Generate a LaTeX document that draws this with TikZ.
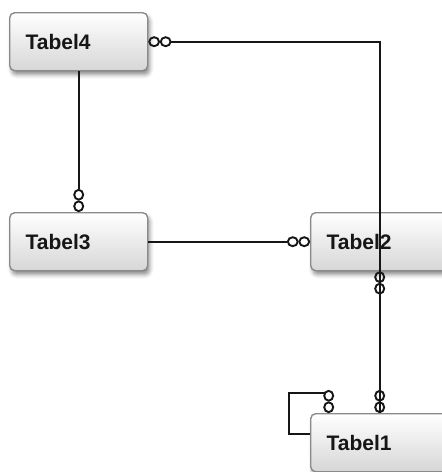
\documentclass[tikz,border=0pt]{standalone}
\usepackage{fontspec}
\setmainfont{Liberation Sans}
\usetikzlibrary{shadows.blur,calc}
\definecolor{edgegrey}{HTML}{8A8A8A}
\definecolor{ink}{HTML}{161616}
\tikzset{
  entity/.style={rectangle, rounded corners=5pt, draw=edgegrey, line width=1.4pt,
    top color=white, bottom color=black!16,
    minimum height=58pt, text width=106pt, inner xsep=16pt, align=left,
    font=\bfseries\fontsize{21}{24}\selectfont, text=ink, anchor=north west,
    blur shadow={shadow xshift=2pt, shadow yshift=-4pt, shadow blur radius=4pt, shadow opacity=45}},
  link/.style={draw=ink, line width=1.9pt},
  % two rings side by side, running along +x from the anchor
  rings/.pic={
    \draw[link] (5.75,0) ellipse [x radius=4.9pt, y radius=4.5pt];
    \draw[link] (17.25,0) ellipse [x radius=4.9pt, y radius=4.5pt];
  }
}
\begin{document}
\begin{tikzpicture}[x=1pt, y=-1pt]
\useasboundingbox (0,0) rectangle (442,472);
\clip (0,0) rectangle (442,472);

% entities
\node[entity] (t4) at (9,12)   {Tabel4};
\node[entity] (t3) at (9,212)  {Tabel3};
\node[entity] (t2) at (310,212) {Tabel2};
\node[entity] (t1) at (310,413) {Tabel1};

% relationships
\draw[link] ($(t4.east)+(23,0)$) -| (t1.north);
\pic at (t4.east) {rings};
\pic[rotate=90] at (t1.north) {rings};

\draw[link] (t4.south) -- ($(t3.north)+(0,-23)$);
\pic[rotate=90] at (t3.north) {rings};

\draw[link] (t3.east) -- ($(t2.west)+(-23,0)$);
\pic[rotate=180] at (t2.west) {rings};

\draw[link] ($(t2.south)+(0,23)$) -- ($(t1.north)+(0,-23)$);
\pic[rotate=-90] at (t2.south) {rings};

% self relationship on Tabel1
\draw[link] ([yshift=9pt]t1.west) -| ($(t1.north)+(-91,-20)$) -- ($(t1.north)+(-55,-20)$);
\pic[rotate=90] at ($(t1.north)+(-51,0)$) {rings};
\end{tikzpicture}
\end{document}
